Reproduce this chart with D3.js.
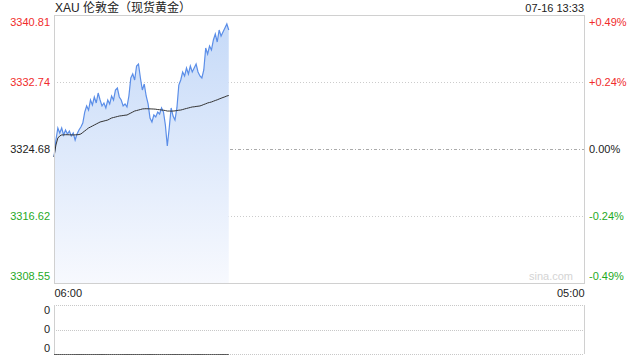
<!DOCTYPE html>
<html><head><meta charset="utf-8">
<script src="https://cdn.jsdelivr.net/npm/d3@7/dist/d3.min.js"></script>
<style>
html,body{margin:0;padding:0;background:#fff;}
text{font-family:"Liberation Sans",Arial,"Noto Sans CJK SC",sans-serif;}
</style></head><body>
<svg id="c" width="640" height="360"></svg>
<script>
const title = "XAU 伦敦金（现货黄金）";
const stamp = "07-16 13:33";
const prevClose = 3324.68;
const priceTicks = [3340.81, 3332.74, 3324.68, 3316.62, 3308.55];
const pctTicks = ["+0.49%", "+0.24%", "0.00%", "-0.24%", "-0.49%"];
const timeLabels = ["06:00", "05:00"];
const totalMinutes = 1380; // 06:00 -> 05:00 next day
const stepMinutes = 5;
const price = [3323.72,3325.76,3327.21,3326.61,3327.21,3326.37,3326.97,3326.49,3326.85,3326.25,
3326.61,3325.76,3326.49,3326.97,3327.33,3327.81,3329.13,3329.86,3329.37,3330.58,
3329.98,3330.94,3330.22,3331.42,3330.58,3329.86,3330.22,3329.62,3330.58,3330.10,
3331.06,3330.58,3331.78,3332.02,3330.94,3330.58,3329.86,3330.10,3329.74,3331.06,
3333.23,3333.71,3332.99,3334.67,3334.91,3333.23,3331.78,3332.50,3331.06,3330.10,
3328.41,3327.93,3328.77,3328.53,3329.13,3328.89,3329.62,3329.13,3327.57,3325.04,
3327.21,3329.62,3328.65,3328.17,3329.62,3332.38,3332.99,3333.95,3333.47,3334.43,
3333.71,3334.67,3333.95,3334.43,3334.91,3333.95,3333.47,3333.23,3334.19,3336.84,
3336.12,3337.08,3336.60,3337.80,3338.52,3337.56,3339.00,3338.28,3338.76,3339.25,
3339.73,3339.00];
const average = [3323.72,3325.16,3326.00,3326.25,3326.37,3326.38,3326.40,3326.40,3326.39,3326.38,
3326.37,3326.38,3326.40,3326.42,3326.49,3326.67,3326.85,3327.03,3327.21,3327.33,
3327.45,3327.57,3327.69,3327.81,3327.93,3327.99,3328.05,3328.11,3328.17,3328.29,
3328.41,3328.47,3328.53,3328.59,3328.65,3328.68,3328.71,3328.75,3328.77,3328.89,
3329.01,3329.13,3329.25,3329.31,3329.37,3329.43,3329.50,3329.52,3329.53,3329.52,
3329.51,3329.50,3329.49,3329.47,3329.43,3329.41,3329.37,3329.35,3329.31,3329.25,
3329.25,3329.24,3329.25,3329.27,3329.31,3329.35,3329.37,3329.43,3329.50,3329.56,
3329.62,3329.68,3329.74,3329.76,3329.80,3329.83,3329.86,3329.94,3330.04,3330.12,
3330.22,3330.28,3330.34,3330.43,3330.52,3330.60,3330.70,3330.79,3330.88,3330.96,
3331.06,3331.12];
const volume = price.map(() => 0);
const volTicks = ["0", "0", "0"];

const svg = d3.select("#c");
const L = 54, R = 584, T = 15, B = 283;
const VT = 305, VB = 354;
const x = d3.scaleLinear().domain([0, totalMinutes]).range([L, R]);
const y = d3.scaleLinear().domain([priceTicks[4], priceTicks[0]]).range([B, T]);
const vy = d3.scaleLinear().domain([0, 1]).range([VB, VT]);

const defs = svg.append("defs");
const g = defs.append("linearGradient").attr("id","fill").attr("x1",0).attr("y1",0).attr("x2",0).attr("y2",1);
g.append("stop").attr("offset","0%").attr("stop-color","#c6daf8");
g.append("stop").attr("offset","100%").attr("stop-color","#f7f9fe");

// gridlines
priceTicks.slice(1,4).forEach((v,i) => {
  svg.append("line").attr("x1",L).attr("x2",R).attr("y1",Math.round(y(v))+0.5).attr("y2",Math.round(y(v))+0.5)
    .attr("stroke", v===prevClose ? "#aaa" : "#ccc")
    .attr("stroke-dasharray", v===prevClose ? "3,2,1,2" : "1,2");
});

// area + lines
const xi = (d,i) => x(i*stepMinutes);
const area = d3.area().x(xi).y0(B).y1(d => y(d));
svg.append("path").datum(price).attr("d", area).attr("fill","url(#fill)");
const line = d3.line().x(xi).y(d => y(d));
svg.append("path").datum(price).attr("d", line).attr("fill","none").attr("stroke","#5b8ee8").attr("stroke-width",1.2);
svg.append("path").datum(average).attr("d", line).attr("fill","none").attr("stroke","#333").attr("stroke-width",1);

// frame
svg.append("rect").attr("x",L+0.5).attr("y",T+0.5).attr("width",R-L).attr("height",B-T)
  .attr("fill","none").attr("stroke","#d0d0d0");

// axes labels
const colorFor = i => i<2 ? "#f02c2c" : (i===2 ? "#222" : "#1faa1f");
const leftAxis = d3.axisLeft(y).tickValues(priceTicks).tickSize(0).tickPadding(4).tickFormat(d3.format(".2f"));
const la = svg.append("g").attr("transform",`translate(${L},0)`).call(leftAxis);
la.select(".domain").remove();
la.selectAll("text").attr("font-size",11).attr("font-family","Liberation Sans, Arial, sans-serif")
  .attr("fill",(d,i)=>colorFor(i))
  .attr("dy",(d,i)=> i===0 ? "0.95em" : (i===4 ? "-0.3em" : "0.35em"));

const yp = d3.scaleLinear().domain([priceTicks[4], priceTicks[0]]).range([B, T]);
const rightAxis = d3.axisRight(yp).tickValues(priceTicks).tickSize(0).tickPadding(5).tickFormat((d,i)=>pctTicks[i]);
const ra = svg.append("g").attr("transform",`translate(${R},0)`).call(rightAxis);
ra.select(".domain").remove();
ra.selectAll("text").attr("font-size",11).attr("font-family","Liberation Sans, Arial, sans-serif")
  .attr("fill",(d,i)=>colorFor(i))
  .attr("dy",(d,i)=> i===0 ? "0.95em" : (i===4 ? "-0.3em" : "0.35em"));

// time labels
const ta = d3.axisBottom(x).tickValues([0, totalMinutes]).tickSize(0).tickPadding(6).tickFormat((d,i)=>timeLabels[i]);
const tg = svg.append("g").attr("transform",`translate(0,${B})`).call(ta);
tg.select(".domain").remove();
tg.selectAll("text").attr("font-size",11).attr("fill","#222").attr("font-family","Liberation Sans, Arial, sans-serif")
  .attr("text-anchor",(d,i)=> i===0 ? "start" : "end");

// title and stamp
svg.append("text").attr("x",55).attr("y",12).attr("font-size",12).attr("fill","#222")
  .attr("font-family","Liberation Sans, Noto Sans CJK SC, sans-serif").text(title);
svg.append("text").attr("x",R).attr("y",12).attr("font-size",11).attr("fill","#222")
  .attr("text-anchor","end").text(stamp);

// watermark
svg.append("text").attr("x",R-11).attr("y",B-3).attr("font-size",11).attr("fill","#d4d4d4")
  .attr("text-anchor","end").text("sina.com");

// volume panel
[VT, (VT+VB)/2, VB].forEach(v => {
  svg.append("line").attr("x1",L).attr("x2",R).attr("y1",Math.round(v)+0.5).attr("y2",Math.round(v)+0.5)
    .attr("stroke","#c8c8c8").attr("stroke-dasharray","1,1");
});
svg.append("line").attr("x1",L+0.5).attr("x2",L+0.5).attr("y1",VT).attr("y2",VB).attr("stroke","#d0d0d0");
svg.append("line").attr("x1",R+0.5).attr("x2",R+0.5).attr("y1",VT).attr("y2",VB).attr("stroke","#d0d0d0");
svg.append("path").datum(volume).attr("d", d3.line().x(xi).y(d=>vy(d)+0.5)).attr("fill","none").attr("stroke","#555").attr("stroke-width",1);
const vyl = d3.scaleLinear().domain([0,2]).range([VT+5, VB-6]);
volTicks.forEach((t,i)=>{
  svg.append("text").attr("x",50).attr("y",vyl(i)).attr("dy","0.35em").attr("text-anchor","end")
    .attr("font-size",11).attr("fill","#222").text(t);
});
</script></body></html>
